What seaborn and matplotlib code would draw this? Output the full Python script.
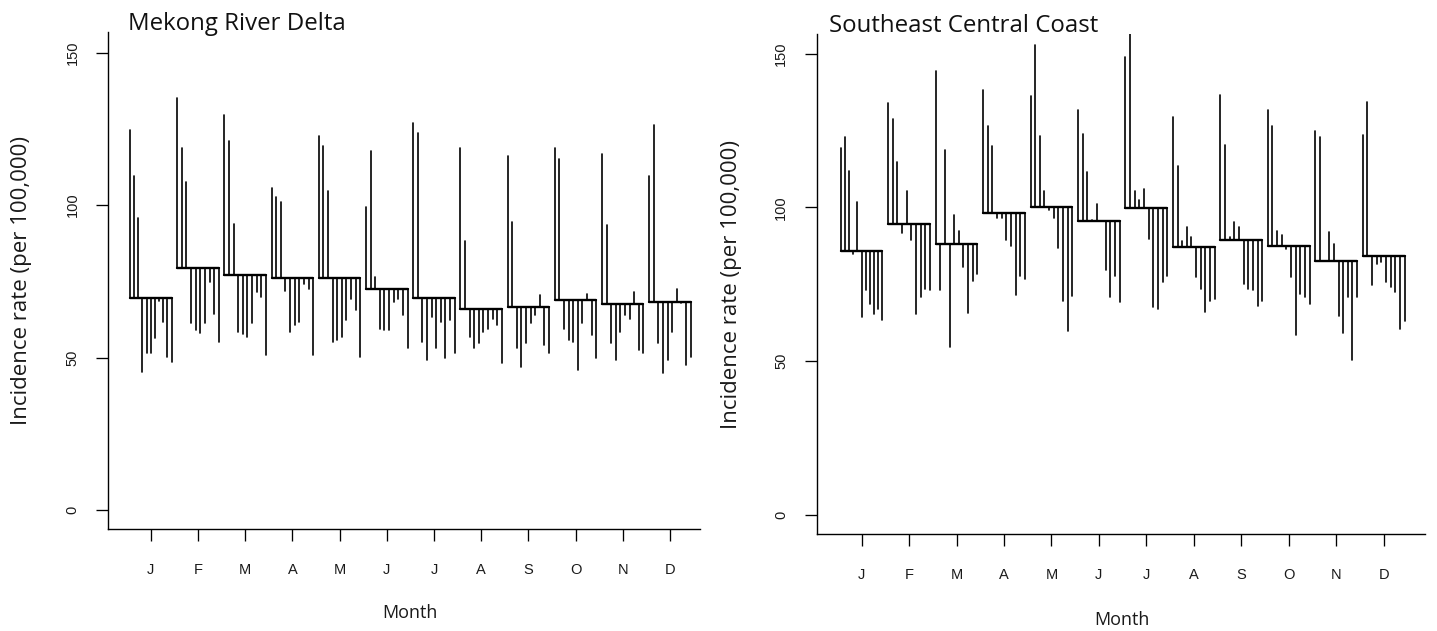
"""Grafico de subseries mensuales (estilo monthplot de R) para dos regiones."""

import numpy as np
import pandas as pd
import matplotlib
matplotlib.use("Agg")
import matplotlib.pyplot as plt
import seaborn as sns

meses = ["J", "F", "M", "A", "M", "J", "J", "A", "S", "O", "N", "D"]

# Tasa de incidencia (por 100,000), un valor por anio; enero tiene un anio mas
mekong = [
    [124.7, 109.7, 95.9, 45.4, 51.4, 51.4, 56.3, 68.5, 61.7, 50.3, 48.7],
    [135.0, 118.8, 107.6, 61.2, 59.1, 58.0, 61.2, 74.8, 64.4, 55.2],
    [129.6, 120.9, 93.8, 58.5, 57.9, 56.8, 61.2, 71.5, 69.9, 50.8],
    [105.5, 102.7, 101.2, 72.0, 58.5, 60.7, 61.7, 74.0, 72.6, 50.8],
    [122.8, 119.3, 104.8, 55.2, 55.7, 56.8, 62.3, 69.3, 65.5, 50.3],
    [99.5, 117.9, 76.4, 59.5, 59.0, 59.0, 68.2, 69.3, 63.9, 53.0],
    [126.9, 123.6, 55.2, 49.2, 63.3, 53.0, 61.7, 49.8, 62.3, 51.4],
    [118.8, 88.1, 56.8, 53.0, 54.7, 58.5, 59.5, 62.8, 60.6, 48.1],
    [116.0, 94.6, 53.0, 47.0, 54.7, 61.2, 63.9, 70.4, 54.1, 51.4],
    [118.8, 115.0, 59.5, 55.7, 55.2, 46.0, 61.2, 70.9, 57.4, 49.8],
    [116.8, 93.5, 54.7, 49.2, 58.5, 63.9, 62.8, 71.5, 52.5, 51.4],
    [109.7, 126.4, 54.7, 44.9, 49.2, 58.5, 72.6, 68.0, 47.6, 50.3],
]

sudeste = [
    [119.5, 123.1, 111.9, 84.8, 101.7, 64.5, 73.0, 68.6, 65.4, 67.1, 63.4],
    [134.0, 128.8, 114.7, 91.6, 105.5, 89.5, 65.4, 70.8, 73.4, 73.0],
    [144.3, 73.0, 118.8, 54.7, 97.4, 92.5, 80.6, 65.6, 76.2, 78.4],
    [138.3, 126.4, 119.9, 96.5, 96.5, 89.5, 87.3, 71.6, 77.7, 76.7],
    [136.2, 152.8, 123.3, 105.5, 99.2, 96.5, 86.8, 69.6, 59.9, 71.2],
    [131.8, 123.8, 111.7, 96.0, 101.2, 95.5, 79.5, 70.8, 77.7, 69.1],
    [149.0, 156.5, 105.5, 102.3, 106.0, 89.8, 67.5, 66.9, 75.6, 77.7],
    [129.6, 113.6, 89.2, 93.6, 90.3, 77.3, 73.4, 65.9, 69.7, 70.1],
    [136.5, 120.4, 90.3, 95.2, 93.6, 75.1, 73.4, 73.0, 68.0, 69.7],
    [131.8, 126.4, 92.5, 90.9, 86.5, 77.3, 58.5, 71.9, 70.8, 68.6],
    [125.0, 122.8, 82.7, 92.0, 88.2, 64.8, 59.1, 70.8, 50.4, 70.8],
    [123.7, 134.5, 74.6, 81.7, 82.2, 75.7, 74.1, 72.4, 60.5, 63.2],
]


def armar_tablas(valores):
    """Segmentos verticales (media -> valor) y lineas de la media por mes."""
    barras, medias = [], []
    seg = 0
    for i, vals in enumerate(valores, start=1):
        xs = i + np.linspace(-0.44, 0.44, len(vals))
        base = float(np.mean(vals))
        for x, v in zip(xs, vals):
            barras.append((seg, x, base))
            barras.append((seg, x, v))
            seg += 1
        medias.append((i, xs[0], base))
        medias.append((i, xs[-1], base))
    cols = ["id", "x", "y"]
    return pd.DataFrame(barras, columns=cols), pd.DataFrame(medias, columns=cols)


sns.set_style("white")
plt.rcParams["font.family"] = ["Liberation Sans", "DejaVu Sans"]

fig = plt.figure(figsize=(14.37, 6.31), dpi=100)

paneles = [
    # (datos, titulo, rect, xlim, ylim, x_titulo, pos_ylabel, pos_month)
    (mekong, "Mekong River Delta", [0.0752, 0.1612, 0.4120, 0.7881],
     (0.095, 12.64), (-6.3, 156.8), 0.034, -0.128, (0.51, -0.168)),
    (sudeste, "Southeast Central Coast", [0.5683, 0.1533, 0.4233, 0.7929],
     (0.053, 12.87), (-6.4, 156.5), 0.020, -0.123, (0.502, -0.171)),
]

for datos, titulo, rect, xlim, ylim, xt, ylab_x, month_pos in paneles:
    ax = fig.add_axes(rect)
    barras, medias = armar_tablas(datos)
    sns.lineplot(data=barras, x="x", y="y", units="id", estimator=None,
                 sort=False, color="black", lw=1.2, ax=ax)
    sns.lineplot(data=medias, x="x", y="y", units="id", estimator=None,
                 sort=False, color="black", lw=1.7, ax=ax)

    ax.set_xlim(*xlim)
    ax.set_ylim(*ylim)
    ax.set_xticks(range(1, 13))
    ax.set_xticklabels(meses, fontsize=10.5)
    ax.set_yticks([0, 50, 100, 150])
    ax.set_yticklabels(["0", "50", "100", "150"], fontsize=10.5,
                       rotation=90, va="center")
    ax.tick_params(axis="both", direction="out", length=8.6, width=0.95,
                   color="black", labelcolor="#1a1a1a",
                   bottom=True, left=True)
    ax.tick_params(axis="x", pad=16)
    ax.tick_params(axis="y", pad=12)
    for lado in ["top", "right"]:
        ax.spines[lado].set_visible(False)
    for lado in ["left", "bottom"]:
        ax.spines[lado].set_color("black")
        ax.spines[lado].set_linewidth(1.0)

    ax.set_xlabel("")
    ax.set_ylabel("Incidence rate (per 100,000)", fontsize=16,
                  family=["Open Sans", "DejaVu Sans"], color="#1a1a1a")
    ax.yaxis.set_label_coords(ylab_x, 0.5)
    ax.text(month_pos[0], month_pos[1], "Month", transform=ax.transAxes,
            ha="center", va="center", fontsize=13,
            family=["Open Sans", "DejaVu Sans"], color="#1a1a1a")
    ax.text(xt, 1.004, titulo, transform=ax.transAxes, ha="left",
            va="baseline", fontsize=17.3,
            family=["Open Sans", "DejaVu Sans"], color="#111111")

fig.savefig("out.png", dpi=100, facecolor="white")
